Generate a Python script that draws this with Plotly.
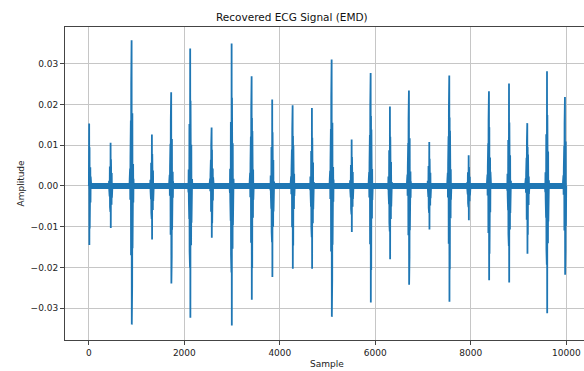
import plotly.graph_objects as go

# ---- data ----
BEAT_SAMPLES = [6, 455, 895, 1320, 1724, 2122, 2571, 2990, 3409, 3840, 4268, 4672,
                5085, 5504, 5902, 6306, 6704, 7130, 7549, 7955, 8380, 8800, 9183,
                9596, 9972]
BEAT_PEAK_POS = [0.0153, 0.0106, 0.0357, 0.0126, 0.0230, 0.0337, 0.0143, 0.0349,
                 0.0269, 0.0212, 0.0198, 0.0191, 0.0310, 0.0114, 0.0277, 0.0195,
                 0.0234, 0.0108, 0.0271, 0.0075, 0.0232, 0.0251, 0.0154, 0.0281,
                 0.0218]
BEAT_PEAK_NEG = [-0.0145, -0.0103, -0.0340, -0.0131, -0.0239, -0.0323, -0.0127,
                 -0.0342, -0.0279, -0.0223, -0.0203, -0.0203, -0.0321, -0.0113,
                 -0.0286, -0.0180, -0.0242, -0.0107, -0.0284, -0.0084, -0.0231,
                 -0.0237, -0.0166, -0.0312, -0.0218]
# QRS oscillation template (relative sample offset, fraction of the beat's peak)
BEAT_SHAPE_OFFSETS = [-40, -36, -32, -28, -24, -20, -16, -12, -8, -4, 0, 4, 8, 12,
                      16, 20, 24, 28, 32, 36, 40]
BEAT_SHAPE = [0.05, -0.05, 0.12, -0.1, 0.2, -0.25, 0.45, -0.5, 0.7, -0.62, 1.0,
              -1.0, 0.62, -0.72, 0.5, -0.45, 0.3, -0.28, 0.15, -0.12, 0.05]
N_SAMPLES = 10000
X_TICKS = [0, 2000, 4000, 6000, 8000, 10000]
Y_TICKS = [-0.03, -0.02, -0.01, 0.0, 0.01, 0.02, 0.03]

# ---- build the signal trace ----
xs, ys = [0], [0.0]
for b, pp, pn in zip(BEAT_SAMPLES, BEAT_PEAK_POS, BEAT_PEAK_NEG):
    xs.append(max(b - 44, 0)); ys.append(0.0)
    for off, f in zip(BEAT_SHAPE_OFFSETS, BEAT_SHAPE):
        s = b + off
        if s < 0 or s > N_SAMPLES - 1:
            continue
        xs.append(s)
        ys.append(f * pp if f >= 0 else -f * pn)
    xs.append(min(b + 44, N_SAMPLES - 1)); ys.append(0.0)
xs.append(N_SAMPLES - 1); ys.append(0.0)

BLUE = "#1f77b4"
fig = go.Figure()
fig.add_trace(go.Scatter(x=[0, N_SAMPLES - 1], y=[0.0, 0.0], mode="lines",
                         line=dict(color=BLUE, width=6), hoverinfo="skip",
                         showlegend=False))
fig.add_trace(go.Scatter(x=xs, y=ys, mode="lines",
                         line=dict(color=BLUE, width=1.8), showlegend=False))

W, H = 584, 371
L, R, T, B = 65, 0, 27, 31
pw, ph = W - L - R, H - T - B
FONT = "DejaVu Sans"

fig.update_layout(
    width=W, height=H,
    margin=dict(l=L, r=R, t=T, b=B, pad=0),
    paper_bgcolor="white", plot_bgcolor="white",
    font=dict(family=FONT, size=9, color="#222"),
    xaxis=dict(range=[-500, 10371], tickvals=X_TICKS,
               ticktext=[str(v) for v in X_TICKS],
               showgrid=True, gridcolor="#c6c6c6", gridwidth=1,
               zeroline=False, showline=True, linecolor="#444", linewidth=1,
               mirror=True, ticks="outside", ticklen=4, tickcolor="#444",
               tickfont=dict(family=FONT, size=9, color="#222")),
    yaxis=dict(range=[-0.03777, 0.03897], tickvals=Y_TICKS,
               ticktext=[("\u2212" if v < 0 else "") + f"{abs(v):.2f}" for v in Y_TICKS],
               showgrid=True, gridcolor="#c6c6c6", gridwidth=1,
               zeroline=False, showline=True, linecolor="#444", linewidth=1,
               mirror=False, ticks="outside", ticklen=4, tickcolor="#444",
               tickfont=dict(family=FONT, size=9, color="#222")),
    annotations=[
        dict(text="Recovered ECG Signal (EMD)", xref="paper", yref="paper",
             x=(292 - L) / pw, y=1 + (T - 17) / ph, xanchor="center",
             yanchor="middle", showarrow=False,
             font=dict(family=FONT, size=10.5, color="#111")),
        dict(text="Sample", xref="paper", yref="paper",
             x=(327 - L) / pw, y=-(364 - (T + ph)) / ph, xanchor="center",
             yanchor="middle", showarrow=False,
             font=dict(family=FONT, size=9, color="#222")),
        dict(text="Amplitude", xref="paper", yref="paper",
             x=(20 - L) / pw, y=0.5, xanchor="center", yanchor="middle",
             textangle=-90, showarrow=False,
             font=dict(family=FONT, size=9, color="#222")),
    ],
)

fig.write_html("out.html")
